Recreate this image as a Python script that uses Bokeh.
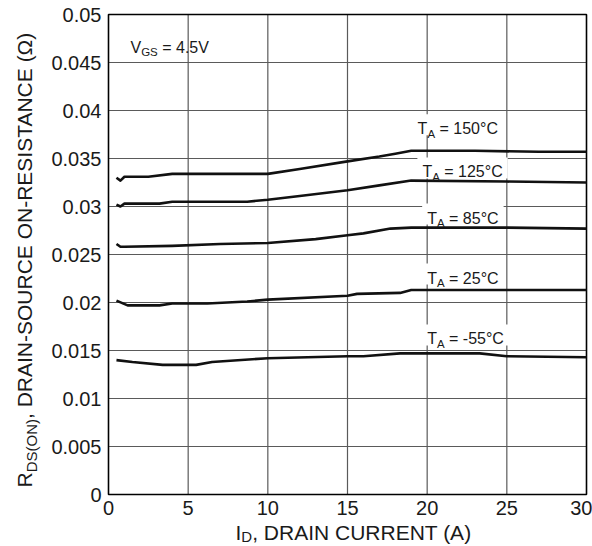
import math
from bokeh.plotting import figure
from bokeh.models import Range1d, FixedTicker, Label, CustomJSTickFormatter
from bokeh.embed import file_html
from bokeh.resources import INLINE

# ---------------- data ----------------
id_150 = [0.5, 0.75, 1.0, 2.5, 4.0, 10.0, 12.0, 15.0, 17.0, 18.0, 19.0, 23.0, 27.0, 30.0]
rds_150 = [0.0330, 0.0327, 0.0331, 0.0331, 0.0334, 0.0334, 0.0339, 0.0347, 0.0352, 0.0355, 0.0358, 0.0358, 0.0357, 0.0357]

id_125 = [0.5, 0.75, 1.0, 3.2, 4.0, 8.7, 10.0, 12.0, 15.0, 17.0, 19.0, 25.0, 30.0]
rds_125 = [0.0302, 0.0300, 0.0303, 0.0303, 0.0305, 0.0305, 0.0307, 0.0311, 0.0317, 0.0322, 0.0327, 0.0326, 0.0325]

id_85 = [0.5, 0.75, 1.0, 4.0, 7.0, 10.0, 13.0, 15.0, 16.0, 17.7, 19.0, 25.0, 30.0]
rds_85 = [0.0261, 0.0258, 0.0258, 0.0259, 0.0261, 0.0262, 0.0266, 0.0270, 0.0272, 0.0277, 0.0278, 0.0278, 0.0277]

id_25 = [0.5, 1.2, 3.2, 4.0, 6.2, 8.7, 10.0, 15.0, 15.6, 18.3, 19.0, 25.0, 30.0]
rds_25 = [0.0202, 0.0197, 0.0197, 0.0199, 0.0199, 0.0201, 0.0203, 0.0207, 0.0209, 0.0210, 0.0213, 0.0213, 0.0213]

id_m55 = [0.5, 1.5, 3.4, 5.5, 6.5, 10.0, 15.0, 16.0, 18.3, 23.3, 25.0, 30.0]
rds_m55 = [0.0140, 0.0138, 0.0135, 0.0135, 0.0138, 0.0142, 0.0144, 0.0144, 0.0147, 0.0147, 0.0144, 0.0143]

series_x = [id_150, id_125, id_85, id_25, id_m55]
series_y = [rds_150, rds_125, rds_85, rds_25, rds_m55]
temp_labels = ["150", "125", "85", "25", "-55"]

x_ticks = [0, 5, 10, 15, 20, 25, 30]
y_ticks = [0, 0.005, 0.01, 0.015, 0.02, 0.025, 0.03, 0.035, 0.04, 0.045, 0.05]

# label anchor positions (data coords: left start, baseline)
label_x = [19.4, 19.7, 20.0, 20.0, 20.0]
label_y = [0.0381, 0.0336, 0.0288, 0.02255, 0.0162]

# ---------------- layout ----------------
W, H = 592, 546
BOX_L, BOX_R, BOX_T, BOX_B = 108, 586, 14, 494   # plot box in canvas px
XMIN, XMAX = x_ticks[0], x_ticks[-1]
YMIN, YMAX = y_ticks[0], y_ticks[-1]
KX = (BOX_R - BOX_L) / (XMAX - XMIN)
KY = (BOX_B - BOX_T) / (YMAX - YMIN)
FONT = "Liberation Sans"
TC = "#1a1a1a"

def cx(px):
    return XMIN + (px - BOX_L) / KX

def cy(py):
    return YMIN + (BOX_B - py) / KY

def dxp(px):
    return px / KX

def dyp(px):
    return px / KY

ARIAL = {'I': 278, 'D': 722, ',': 278, ' ': 278, 'R': 722, 'A': 667, 'N': 722,
         'C': 722, 'U': 722, 'E': 667, 'T': 611, '(': 333, ')': 333, 'S': 667,
         'O': 778, '-': 333, '\u03a9': 768, 'V': 667, 'G': 778, '=': 584,
         '.': 278, '\u00b0': 400}
for d in "0123456789":
    ARIAL[d] = 556

def tw(s, size):
    return sum(ARIAL.get(c, 600) for c in s) * size / 1000.0

p = figure(width=W, height=H,
           x_range=Range1d(cx(0), cx(W)), y_range=Range1d(cy(H), cy(0)),
           output_backend="svg", toolbar_location=None, min_border=0)
p.background_fill_color = "white"
p.border_fill_color = "white"
p.outline_line_color = None
p.xgrid.visible = False
p.ygrid.visible = False

# grid lines (segments across the plot box)
p.segment(x0=x_ticks, y0=[YMIN] * len(x_ticks), x1=x_ticks, y1=[YMAX] * len(x_ticks),
          line_color="#5a5a5a", line_width=1.2)
p.segment(x0=[XMIN] * len(y_ticks), y0=y_ticks, x1=[XMAX] * len(y_ticks), y1=y_ticks,
          line_color="#5a5a5a", line_width=1.2)

# axes fixed on the plot box edges
p.xaxis.fixed_location = YMIN
p.yaxis.fixed_location = XMIN
p.xaxis.bounds = (XMIN, XMAX)
p.yaxis.bounds = (YMIN, YMAX)
p.xaxis.ticker = FixedTicker(ticks=x_ticks)
p.yaxis.ticker = FixedTicker(ticks=y_ticks)
p.yaxis.formatter = CustomJSTickFormatter(
    code="return tick == 0 ? '0' : String(Math.round(tick*1000)/1000);")
for ax in (p.xaxis, p.yaxis):
    ax.axis_line_color = None
    ax.major_tick_line_color = None
    ax.minor_tick_line_color = None
    ax.major_tick_out = 0
    ax.major_tick_in = 0
    ax.minor_tick_out = 0
    ax.minor_tick_in = 0
    ax.major_label_text_font = FONT
    ax.major_label_text_font_size = "20px"
    ax.major_label_text_color = TC
    ax.axis_label = None
p.xaxis.major_label_standoff = 6
p.yaxis.major_label_standoff = 7

def put(x, y, text, size, angle=0.0):
    p.add_layout(Label(x=x, y=y, text=text, text_font=FONT,
                       text_font_size=f"{size}px", text_color=TC,
                       text_align="left", text_baseline="alphabetic", angle=angle))

# label boxes (white, hide grid)
MAIN, SUB = 16, 11.5
for lx, ly, t in zip(label_x, label_y, temp_labels):
    rest = f"= {t}\u00b0C"
    wpx = tw("T", MAIN) + tw("A", SUB) + tw(" ", MAIN) + tw(rest, MAIN)
    p.rect(x=lx + dxp(wpx / 2), y=ly + dyp(4), width=wpx + 10, height=21,
           width_units="screen", height_units="screen",
           fill_color="white", line_color=None)

# plot box outline
p.quad(left=[XMIN], right=[XMAX], bottom=[YMIN], top=[YMAX],
       fill_color=None, line_color="black", line_width=1.5)

# curves
for xs, ys in zip(series_x, series_y):
    p.line(xs, ys, line_color="#111111", line_width=2.6, line_join="round")

# temperature labels
for lx, ly, t in zip(label_x, label_y, temp_labels):
    rest = f"= {t}\u00b0C"
    put(lx, ly, "T", MAIN)
    x2 = lx + dxp(tw("T", MAIN))
    put(x2, ly - dyp(5), "A", SUB)
    x3 = x2 + dxp(tw("A", SUB) + tw(" ", MAIN))
    put(x3, ly, rest, MAIN)

# VGS label
vx, vy = 1.38, 0.04656
put(vx, vy, "V", MAIN)
vx2 = vx + dxp(tw("V", MAIN))
put(vx2, vy - dyp(4.5), "GS", SUB)
vx3 = vx2 + dxp(tw("GS", SUB) + tw(" ", MAIN))
put(vx3, vy, "= 4.5V", MAIN)

# x-axis title: I_D, DRAIN CURRENT (A)
AX, AXS = 21, 15
sx = cx(235)
by = cy(532)
put(sx, by, "I", AX)
sx2 = sx + dxp(tw("I", AX))
put(sx2, cy(535.5), "D", AXS)
sx3 = sx2 + dxp(tw("D", AXS))
put(sx3, by, ", DRAIN CURRENT (A)", AX)

# y-axis title (rotated): R_DS(ON), DRAIN-SOURCE ON-RESISTANCE (Ω)
bx = cx(24)
sy0 = cy(487)
put(bx, sy0, "R", AX, math.pi / 2)
sy1 = sy0 + dyp(tw("R", AX))
put(cx(31), sy1, "DS(ON)", AXS, math.pi / 2)
sy2 = sy1 + dyp(tw("DS(ON)", AXS))
put(bx, sy2, ", DRAIN-SOURCE ON-RESISTANCE (\u03a9)", AX, math.pi / 2)

open("out.html", "w").write(file_html(p, INLINE))
